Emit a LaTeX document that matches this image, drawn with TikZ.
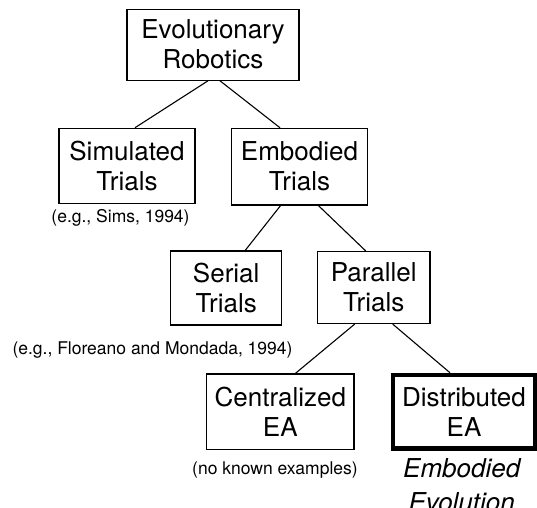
\documentclass[tikz,border=0pt]{standalone}
\usepackage{fontspec}
\setmainfont{TeX Gyre Heros}
\usetikzlibrary{positioning}

\tikzset{
	box/.style={draw, line width=1.2pt, align=center, inner sep=0pt,
		font=\fontsize{26}{30}\selectfont},
	note/.style={font=\fontsize{17.5}{20}\selectfont},
}

\begin{document}
\begin{tikzpicture}[x=1pt, y=-1pt]
	% page size
	\useasboundingbox (0,0) rectangle (537,507);

	% Draw boxes
	%Top
	\node[box, minimum width=172pt, minimum height=71pt] (er) at (213,44.7) {Evolutionary\\Robotics};
	%Second row
	\node[box, minimum width=136pt, minimum height=75pt] (sim) at (127,165.8) {Simulated\\Trials};
	\node[box, minimum width=135.6pt, minimum height=76.7pt] (emb) at (299.5,166.7) {Embodied\\Trials};
	%Third row
	\node[box, minimum width=111pt, minimum height=74pt] (ser) at (226.2,288) {Serial\\Trials};
	\node[box, minimum width=112.7pt, minimum height=72pt] (par) at (373.7,287.5) {Parallel\\Trials};
	%Bottom row
	\node[box, minimum width=147.3pt, minimum height=75.3pt] (cen) at (280.3,411.7) {Centralized\\EA};
	\node[box, line width=4.5pt, minimum width=142pt, minimum height=73.5pt] (dis) at (464,411.75) {Distributed\\EA};

	% Draw connectors
	\draw[line width=1.1pt] ([xshift=-5pt]er.south) -- ([xshift=8pt]sim.north);
	\draw[line width=1.1pt] ([xshift=7pt]er.south) -- ([xshift=-19.5pt]emb.north);
	\draw[line width=1.1pt] ([xshift=-19pt]emb.south) -- ([xshift=19pt]ser.north);
	\draw[line width=1.1pt] ([xshift=19pt]emb.south) -- ([xshift=-8pt]par.north);
	\draw[line width=1.1pt] ([xshift=-19pt]par.south) -- ([xshift=15pt]cen.north);
	\draw[line width=1.1pt] ([xshift=19pt]par.south) -- ([xshift=-14pt]dis.north);

	%Add examples
	\node[note] (simex) at (120.5,218) {(e.g.,\ Sims,\ 1994)};
	\node[note] (serex) at (152.5,350) {(e.g.,\ Floreano and Mondada,\ 1994)};
	\node[note] (cenex) at (275,470) {(no\ known\ examples)};
	\node[font=\fontsize{26}{34}\selectfont\itshape, align=center] (disex) at (461.7,485) {Embodied\\Evolution};

\end{tikzpicture}
\end{document}
